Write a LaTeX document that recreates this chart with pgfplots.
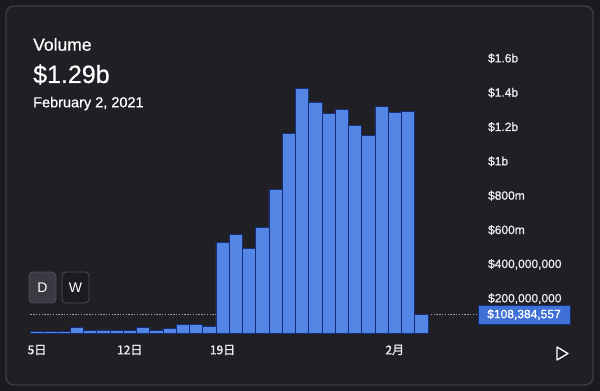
\documentclass[border=0pt]{standalone}
\usepackage{fontspec}
\setmainfont{Liberation Sans}
\newfontfamily\cjk{Noto Sans CJK JP}[FakeBold=1.6]
\newfontfamily\tickfont{Liberation Sans}[FakeBold=1.0]
\newfontfamily\headfont{Liberation Sans}[FakeBold=0.6]
\usepackage{pgfplots}
\pgfplotsset{compat=1.18}
\definecolor{pagebg}{RGB}{27,27,31}
\definecolor{cardbg}{RGB}{32,31,36}
\definecolor{cardborder}{RGB}{60,60,68}
\definecolor{barc}{RGB}{84,134,230}
\definecolor{bard}{RGB}{22,46,120}
\definecolor{boxc}{RGB}{62,112,214}
\definecolor{tickc}{RGB}{236,236,240}
\definecolor{btnD}{RGB}{58,58,66}
\definecolor{btnW}{RGB}{28,28,32}
\definecolor{btnborder}{RGB}{78,78,86}
\begin{document}
\begin{tikzpicture}[x=1pt,y=1pt]
\fill[pagebg] (0,0) rectangle (600,391);
\draw[cardborder, fill=cardbg, line width=1.4pt, rounded corners=8pt] (6,6) rectangle (593,385);
% header
\node[anchor=base west, inner sep=0, text=white, font=\headfont\fontsize{17.5}{20}\selectfont] at (33,340.3) {Volume};
\node[anchor=base west, inner sep=0, text=white, font=\headfont\fontsize{25}{28}\selectfont] at (33,308) {\$1.29b};
\node[anchor=base west, inner sep=0, text=white, font=\headfont\fontsize{14.5}{17}\selectfont] at (33,283.7) {February 2, 2021};
% buttons
\draw[btnborder, fill=btnD, line width=0.8pt, rounded corners=4pt] (29,88) rectangle (56,119);
\node[text=white, font=\fontsize{14}{16}\selectfont] at (42.5,103.5) {D};
\draw[btnborder, fill=btnW, line width=0.8pt, rounded corners=4pt] (62,88) rectangle (89,119);
\node[text=white, font=\fontsize{14}{16}\selectfont] at (75.5,103.5) {W};
% play
\draw[white, line width=1.3pt, line join=round] (557,44) -- (557,31) -- (568,37.5) -- cycle;
\begin{axis}[
  at={(30.4pt,58pt)}, anchor=south west,
  scale only axis, width=397.5pt, height=274.7pt,
  xmin=-0.5, xmax=29.5, ymin=0, ymax=1600,
  clip=false,
  axis line style={draw=none},
  major tick length=0pt,
  xtick={0,7,14,27},
  xticklabels={{5日},{12日},{19日},{2月}},
  xticklabel style={font=\cjk\fontsize{12}{14}\selectfont, text=tickc, anchor=center, yshift=-17pt, inner sep=0pt},
  ytick={200,400,600,800,1000,1200,1400,1600},
  yticklabels={{\$200,000,000},{\$400,000,000},{\$600m},{\$800m},{\$1b},{\$1.2b},{\$1.4b},{\$1.6b}},
  yticklabel pos=right,
  yticklabel style={font=\tickfont\fontsize{12}{14}\selectfont, text=tickc, anchor=west, xshift=60pt, inner sep=0pt},
]
\addplot[draw=gray!75, line width=0.8pt, dash pattern=on 1.4pt off 1.4pt] coordinates {(-0.5,108.384557) (33.3,108.384557)};
\addplot[ybar, bar width=13.25pt, fill=barc, draw=bard, line width=0.8pt] coordinates {
(0,8) (1,8) (2,8) (3,30) (4,14) (5,18) (6,15) (7,15) (8,30) (9,14) (10,25) (11,49) (12,49) (13,37)
(14,525) (15,572) (16,494) (17,617) (18,838) (19,1164) (20,1424) (21,1346) (22,1277) (23,1300)
(24,1209) (25,1150) (26,1320) (27,1285) (28,1290) (29,108.384557)};
\end{axis}
\draw[bard, line width=0.8pt, fill=boxc] (478,67) rectangle (570,86);
\node[text=white, inner sep=0pt, font=\tickfont\fontsize{12}{14}\selectfont] at (524,76.5) {\$108,384,557};
\end{tikzpicture}
\end{document}
